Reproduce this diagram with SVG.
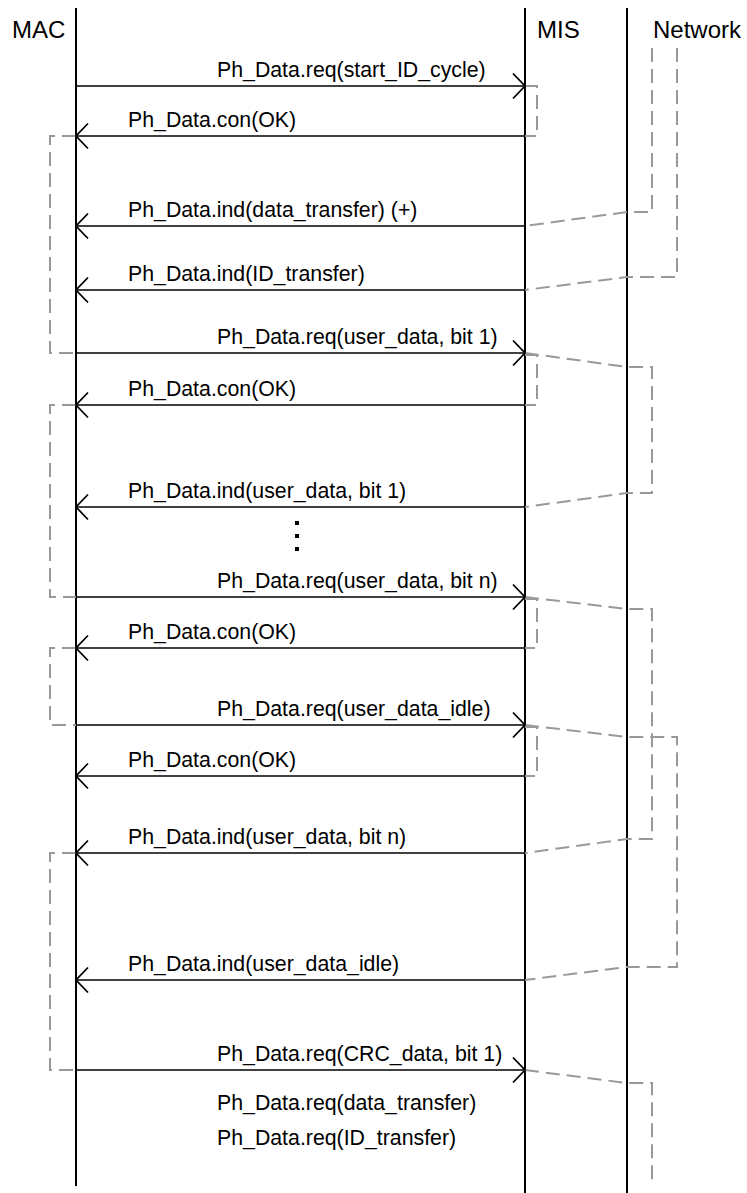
<svg xmlns="http://www.w3.org/2000/svg" width="747" height="1193" viewBox="0 0 747 1193">
<style>
  .title { font-family: "Liberation Sans", Arial, sans-serif; font-size: 24px; fill: #000; }
  .lbl { font-family: "Liberation Sans", Arial, sans-serif; font-size: 21.3px; fill: #000; }
  .life { stroke: #000; stroke-width: 2; fill: none; }
  .msg { stroke: #000; stroke-width: 1.7; fill: none; marker-end: url(#open); }
  .dash { stroke: #999; stroke-width: 2; fill: none; stroke-dasharray: 14 7; }
</style>
<defs>
  <marker id="open" viewBox="0 0 14 28" refX="13" refY="14" markerWidth="14" markerHeight="28" markerUnits="userSpaceOnUse" orient="auto">
    <path d="M1,1.5 L13,14 L1,26.5" fill="none" stroke="#000" stroke-width="1.8"/>
  </marker>
</defs>
<rect width="747" height="1193" fill="#fff"/>
<g id="MAC">
  <line class="life" x1="76" y1="8" x2="76" y2="1186"/>
  <text class="title" x="12" y="38">MAC</text>
</g>
<g id="MIS">
  <line class="life" x1="525" y1="8" x2="525" y2="1193"/>
  <text class="title" x="537" y="38">MIS</text>
</g>
<g id="Network">
  <line class="life" x1="627" y1="8" x2="627" y2="1193"/>
  <text class="title" x="653" y="38">Network</text>
</g>
<g id="connectors">
  <!-- gray dashed flow paths -->
  <path class="dash" d="M525,86 H537 V136 H525"/>
  <path class="dash" d="M76,136 H50 V353 H76"/>
  <path class="dash" d="M652,48 V212 H627 L525,226"/>
  <path class="dash" d="M677,48 V277 H627 L525,290"/>
  <path class="dash" d="M525,353 L627,367 H652 V493 H627 L525,507"/>
  <path class="dash" d="M525,355 H537 V405 H525"/>
  <path class="dash" d="M76,405 H50 V597 H76"/>
  <path class="dash" d="M525,597 L627,609 H652 V839 H627 L525,853"/>
  <path class="dash" d="M525,599 H537 V648 H525"/>
  <path class="dash" d="M76,648 H50 V725 H76"/>
  <path class="dash" d="M525,725 L627,737 H677 V967 H627 L525,980"/>
  <path class="dash" d="M525,727 H537 V776 H525"/>
  <path class="dash" d="M76,853 H50 V1070 H76"/>
  <path class="dash" d="M525,1070 L627,1083 H652 V1185"/>
  <!-- messages -->
  <line class="msg" x1="76" y1="86" x2="525" y2="86"/>
  <text class="lbl" x="217" y="77">Ph_Data.req(start_ID_cycle)</text>
  <line class="msg" x1="525" y1="136" x2="76" y2="136"/>
  <text class="lbl" x="128" y="127">Ph_Data.con(OK)</text>
  <line class="msg" x1="525" y1="226" x2="76" y2="226"/>
  <text class="lbl" x="128" y="217">Ph_Data.ind(data_transfer) (+)</text>
  <line class="msg" x1="525" y1="290" x2="76" y2="290"/>
  <text class="lbl" x="128" y="281">Ph_Data.ind(ID_transfer)</text>
  <line class="msg" x1="76" y1="353" x2="525" y2="353"/>
  <text class="lbl" x="217" y="344">Ph_Data.req(user_data, bit 1)</text>
  <line class="msg" x1="525" y1="405" x2="76" y2="405"/>
  <text class="lbl" x="128" y="396">Ph_Data.con(OK)</text>
  <line class="msg" x1="525" y1="507" x2="76" y2="507"/>
  <text class="lbl" x="128" y="498">Ph_Data.ind(user_data, bit 1)</text>
  <rect x="295" y="521" width="4" height="4" fill="#000"/>
  <rect x="295" y="534" width="4" height="4" fill="#000"/>
  <rect x="295" y="547" width="4" height="4" fill="#000"/>
  <line class="msg" x1="76" y1="597" x2="525" y2="597"/>
  <text class="lbl" x="217" y="588">Ph_Data.req(user_data, bit n)</text>
  <line class="msg" x1="525" y1="648" x2="76" y2="648"/>
  <text class="lbl" x="128" y="639">Ph_Data.con(OK)</text>
  <line class="msg" x1="76" y1="725" x2="525" y2="725"/>
  <text class="lbl" x="217" y="716">Ph_Data.req(user_data_idle)</text>
  <line class="msg" x1="525" y1="776" x2="76" y2="776"/>
  <text class="lbl" x="128" y="767">Ph_Data.con(OK)</text>
  <line class="msg" x1="525" y1="853" x2="76" y2="853"/>
  <text class="lbl" x="128" y="844">Ph_Data.ind(user_data, bit n)</text>
  <line class="msg" x1="525" y1="980" x2="76" y2="980"/>
  <text class="lbl" x="128" y="971">Ph_Data.ind(user_data_idle)</text>
  <line class="msg" x1="76" y1="1070" x2="525" y2="1070"/>
  <text class="lbl" x="217" y="1061">Ph_Data.req(CRC_data, bit 1)</text>
  <text class="lbl" x="217" y="1110">Ph_Data.req(data_transfer)</text>
  <text class="lbl" x="217" y="1145">Ph_Data.req(ID_transfer)</text>
</g>
</svg>
